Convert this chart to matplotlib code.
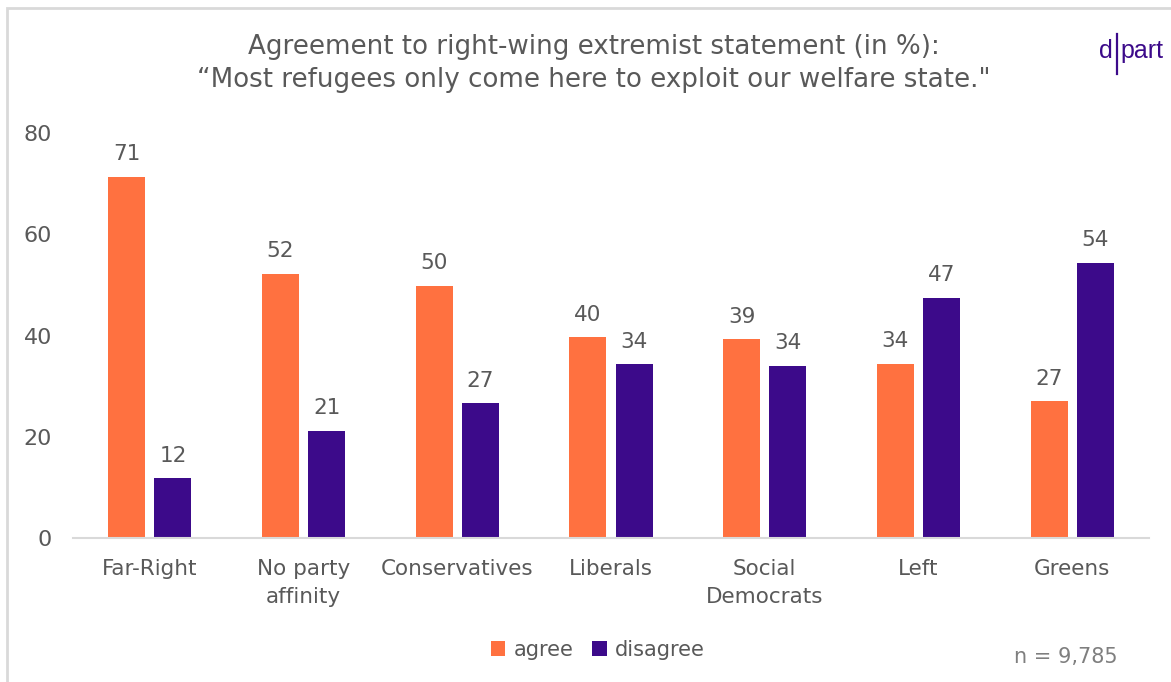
import matplotlib.pyplot as plt
import numpy as np
from matplotlib.patches import Rectangle
from matplotlib.lines import Line2D

groups = ["Far-Right", "No party\naffinity", "Conservatives", "Liberals",
          "Social\nDemocrats", "Left", "Greens"]
agree = [71, 52, 50, 40, 39, 34, 27]
disagree = [12, 21, 27, 34, 34, 47, 54]
agree_vals = [71.4, 52.2, 49.8, 39.7, 39.3, 34.4, 27.0]
disagree_vals = [11.8, 21.2, 26.6, 34.3, 34.0, 47.5, 54.4]

ORANGE = "#FF7140"
PURPLE = "#3C0A8A"
TXT = "#595959"

fig = plt.figure(figsize=(11.71, 6.82), dpi=100)
ax = fig.add_axes([73/1171, 1-538/682, (1149-73)/1171, (538-133)/682])

x = np.arange(len(groups))
w = 0.24
ax.bar(x - 0.15, agree_vals, w, color=ORANGE, label="agree")
ax.bar(x + 0.15, disagree_vals, w, color=PURPLE, label="disagree")

for i in range(len(groups)):
    ax.annotate(str(agree[i]), (x[i] - 0.15, agree_vals[i]), xytext=(0, 9),
                textcoords="offset points", ha="center", va="bottom",
                fontsize=15.5, color=TXT)
    ax.annotate(str(disagree[i]), (x[i] + 0.15, disagree_vals[i]), xytext=(0, 9),
                textcoords="offset points", ha="center", va="bottom",
                fontsize=15.5, color=TXT)

ax.set_xlim(-0.5, len(groups) - 0.5)
ax.set_ylim(0, 80)
ax.set_yticks([0, 20, 40, 60, 80])
ax.set_xticks(x)
ax.set_xticklabels(groups, fontsize=15.5, color=TXT, linespacing=1.5)
ax.tick_params(axis="y", labelsize=16, labelcolor=TXT, length=0, pad=15)
ax.tick_params(axis="x", length=0, pad=15)
for s in ["top", "right", "left"]:
    ax.spines[s].set_visible(False)
ax.spines["bottom"].set_color("#d9d9d9")
ax.spines["bottom"].set_linewidth(1.5)

fig.text(594/1171, 1-47/682, "Agreement to right-wing extremist statement (in %):",
         ha="center", va="center", fontsize=18.8, color=TXT)
fig.text(594/1171, 1-80/682, "\u201cMost refugees only come here to exploit our welfare state.\"",
         ha="center", va="center", fontsize=18.8, color=TXT)

leg = fig.legend(loc="center", bbox_to_anchor=(598/1171, 1-650/682), ncol=2,
                 frameon=False, fontsize=15, handlelength=0.7, handleheight=0.7,
                 handletextpad=0.4, columnspacing=0.9)
for t in leg.get_texts():
    t.set_color(TXT)

fig.text(1118/1171, 1-657/682, "n = 9,785", ha="right", va="center",
         fontsize=15, color="#7f7f7f")

# frame
fig.patches.append(Rectangle((7/1171, -0.1), 1.2, 1-8/682 + 0.1,
                             transform=fig.transFigure, fill=False,
                             edgecolor="#d9d9d9", linewidth=2))

# logo
fig.text(1113/1171, 1-51/682, "d", ha="right", va="center", fontsize=18,
         family="Liberation Sans", color=PURPLE)
fig.text(1120/1171, 1-51/682, "part", ha="left", va="center", fontsize=18,
         family="Liberation Sans", color=PURPLE)
fig.lines.append(Line2D([1116.5/1171, 1116.5/1171], [1-34/682, 1-74/682],
                        transform=fig.transFigure, color=PURPLE, linewidth=1.6))

fig.savefig("out.png", dpi=100)
